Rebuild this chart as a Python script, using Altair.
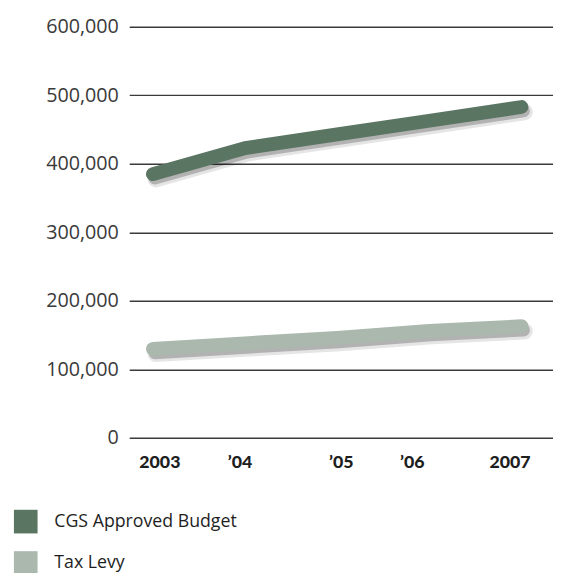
import altair as alt
import pandas as pd

years = [2003, 2004, 2005, 2006, 2007]
cgs_budget = [385000, 423000, 443000, 463000, 483000]
tax_levy = [130000, 138000, 146000, 156000, 163000]
series_names = ["CGS Approved Budget", "Tax Levy"]
series_colors = ["#5b7563", "#aab8ae"]
x_label_pos = [2003.07, 2003.94, 2005.04, 2005.81, 2006.87]
x_labels = ["2003", "\u201904", "\u201905", "\u201906", "2007"]
y_ticks = [0, 100000, 200000, 300000, 400000, 500000, 600000]

rows = []
for y, a, b in zip(years, cgs_budget, tax_levy):
    rows.append({"year": y, "value": a, "series": series_names[0]})
    rows.append({"year": y, "value": b, "series": series_names[1]})
df = pd.DataFrame(rows)

# label expression built from the label arrays
expr = f"'{x_labels[-1]}'"
for i in range(len(x_label_pos) - 2, -1, -1):
    mid = (x_label_pos[i] + x_label_pos[i + 1]) / 2
    expr = f"datum.value < {mid} ? '{x_labels[i]}' : ({expr})"

x_enc = alt.X(
    "year:Q",
    scale=alt.Scale(domain=[2002.743, 2007.342], nice=False, zero=False),
    axis=alt.Axis(
        values=x_label_pos, labelExpr=expr, title=None, grid=False, domain=False,
        ticks=False, labelFont="Lato", labelFontWeight=900, labelFontSize=18,
        labelColor="#1e1e1e", labelPadding=16, labelOverlap=False, labelFlush=False,
    ),
)
y_enc = alt.Y(
    "value:Q",
    scale=alt.Scale(domain=[0, 600000], nice=False),
    axis=alt.Axis(
        values=y_ticks, format=",.0f", title=None, domain=False, ticks=False,
        grid=True, gridColor="#3a3a3a", gridWidth=1.5, gridOpacity=1,
        labelFont="Open Sans", labelFontSize=20, labelColor="#3a3a3a", labelPadding=11,
    ),
)

base = alt.Chart(df)

shadow1 = base.mark_line(
    strokeWidth=17, strokeCap="round", strokeJoin="round", color="#000000",
    opacity=0.10, xOffset=3, yOffset=5,
).encode(x=x_enc, y=y_enc, detail="series:N")
shadow2 = base.mark_line(
    strokeWidth=13, strokeCap="round", strokeJoin="round", color="#000000",
    opacity=0.22, xOffset=2, yOffset=4,
).encode(x=x_enc, y=y_enc, detail="series:N")

lines = base.mark_line(strokeWidth=14, strokeCap="round", strokeJoin="round").encode(
    x=x_enc,
    y=y_enc,
    color=alt.Color(
        "series:N",
        scale=alt.Scale(domain=series_names, range=series_colors),
        legend=alt.Legend(
            title=None, orient="none", legendX=-117, legendY=490,
            symbolType="square", symbolSize=144, symbolStrokeWidth=12,
            symbolOpacity=1, labelFont="Open Sans", labelFontSize=18,
            labelColor="#1e1e1e", labelOffset=17, rowPadding=-26, padding=0,
            labelLimit=400, direction="vertical",
        ),
    ),
)

chart = (
    alt.layer(shadow1, shadow2, lines)
    .properties(
        width=430, height=417,
        autosize=alt.AutoSizeParams(type="none"),
        padding={"left": 123, "top": 15, "right": 0, "bottom": 133},
    )
    .configure_view(stroke=None)
)

chart.save("out.html", embed_options={"renderer": "svg", "actions": False})
